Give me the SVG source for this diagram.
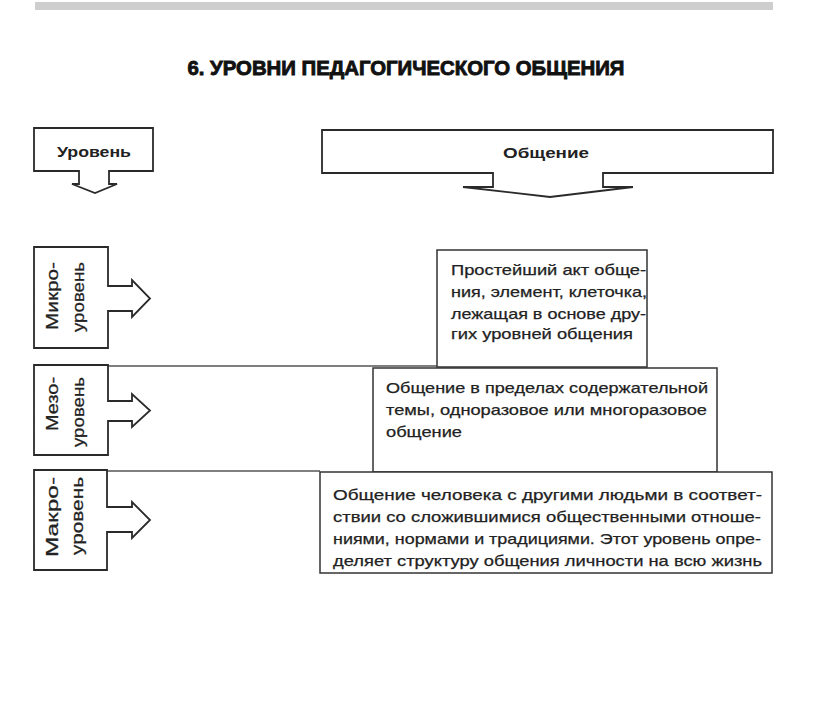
<svg xmlns="http://www.w3.org/2000/svg" width="816" height="713" viewBox="0 0 816 713">
<style>
.shape{fill:#fff;stroke:#2a2a2a;stroke-width:1.8;stroke-linejoin:miter}
.box{fill:#fff;stroke:#333;stroke-width:1.5}
.div{stroke:#555;stroke-width:1.3;fill:none}
.hdr{font-family:"Liberation Sans",Arial,sans-serif;font-weight:bold;font-size:15px;fill:#222;text-anchor:middle}
.vt{font-family:"Liberation Sans",Arial,sans-serif;font-size:16px;fill:#222;stroke:#222;stroke-width:0.25;text-anchor:end}
.bt{font-family:"Liberation Sans",Arial,sans-serif;font-size:15px;fill:#222;stroke:#222;stroke-width:0.25}
.title{font-family:"Liberation Sans",Arial,sans-serif;font-weight:900;font-size:21px;fill:#111;stroke:#111;stroke-width:0.9;text-anchor:middle}
</style>
<rect width="816" height="713" fill="#fff"/>
<rect x="35" y="2" width="738" height="8" fill="#bdbdbd" opacity="0.75"/>
<text class="title" x="406" y="75" textLength="437" lengthAdjust="spacingAndGlyphs">6. УРОВНИ ПЕДАГОГИЧЕСКОГО ОБЩЕНИЯ</text>

<g id="head-level">
<path class="shape" d="M34,128 H153 V171 H109 V184 H117 L95,193 L72,184 H79 V171 H34 Z"/>
<text class="hdr" x="94" y="157" textLength="74" lengthAdjust="spacingAndGlyphs">Уровень</text>
</g>
<g id="head-comm">
<path class="shape" d="M322,130 H773 V173 H603 V187 H633 L550,197 L463,187 H493 V173 H322 Z"/>
<text class="hdr" x="546" y="158" textLength="86" lengthAdjust="spacingAndGlyphs">Общение</text>
</g>

<g id="connectors">
<line class="div" x1="108" y1="366" x2="437" y2="366"/>
<line class="div" x1="107" y1="471" x2="320" y2="471"/>
</g>

<g id="micro-level">
<path class="shape" d="M34,247 H108 V286 H132 V280 L150,298.5 L132,317 V311 H108 V348 H34 Z"/>
<text class="vt" transform="translate(58,262) rotate(-90)" textLength="68" lengthAdjust="spacingAndGlyphs">Микро-</text>
<text class="vt" transform="translate(84,262) rotate(-90)" textLength="70" lengthAdjust="spacingAndGlyphs">уровень</text>
</g>
<g id="meso-level">
<path class="shape" d="M34,365 H108 V401 H132 V394 L150,410.5 L132,427 V421 H108 V455 H34 Z"/>
<text class="vt" transform="translate(58,377) rotate(-90)" textLength="54" lengthAdjust="spacingAndGlyphs">Мезо-</text>
<text class="vt" transform="translate(84,377) rotate(-90)" textLength="70" lengthAdjust="spacingAndGlyphs">уровень</text>
</g>
<g id="macro-level">
<path class="shape" d="M34,470 H107 V507 H132 V502 L150,520 L132,538 V532 H107 V570 H34 Z"/>
<text class="vt" transform="translate(58,477) rotate(-90)" textLength="80" lengthAdjust="spacingAndGlyphs">Макро-</text>
<text class="vt" transform="translate(83,477) rotate(-90)" textLength="78" lengthAdjust="spacingAndGlyphs">уровень</text>
</g>

<g id="micro-desc">
<rect class="box" x="437" y="250" width="210" height="117"/>
<text class="bt" x="451" y="275" textLength="195" lengthAdjust="spacingAndGlyphs">Простейший акт обще-</text>
<text class="bt" x="451" y="297" textLength="196" lengthAdjust="spacingAndGlyphs">ния, элемент, клеточка,</text>
<text class="bt" x="451" y="319" textLength="195" lengthAdjust="spacingAndGlyphs">лежащая в основе дру-</text>
<text class="bt" x="451" y="339" textLength="182" lengthAdjust="spacingAndGlyphs">гих уровней общения</text>
</g>
<g id="meso-desc">
<rect class="box" x="373" y="368" width="344" height="104"/>
<text class="bt" x="386" y="393" textLength="322" lengthAdjust="spacingAndGlyphs">Общение в пределах содержательной</text>
<text class="bt" x="386" y="415" textLength="321" lengthAdjust="spacingAndGlyphs">темы, одноразовое или многоразовое</text>
<text class="bt" x="386" y="437" textLength="76" lengthAdjust="spacingAndGlyphs">общение</text>
</g>
<g id="macro-desc">
<rect class="box" x="320" y="472" width="452" height="101"/>
<text class="bt" x="333" y="500" textLength="429" lengthAdjust="spacingAndGlyphs">Общение человека с другими людьми в соответ-</text>
<text class="bt" x="333" y="522" textLength="428" lengthAdjust="spacingAndGlyphs">ствии со сложившимися общественными отноше-</text>
<text class="bt" x="333" y="544" textLength="428" lengthAdjust="spacingAndGlyphs">ниями, нормами и традициями. Этот уровень опре-</text>
<text class="bt" x="333" y="566" textLength="429" lengthAdjust="spacingAndGlyphs">деляет структуру общения личности на всю жизнь</text>
</g>
</svg>
